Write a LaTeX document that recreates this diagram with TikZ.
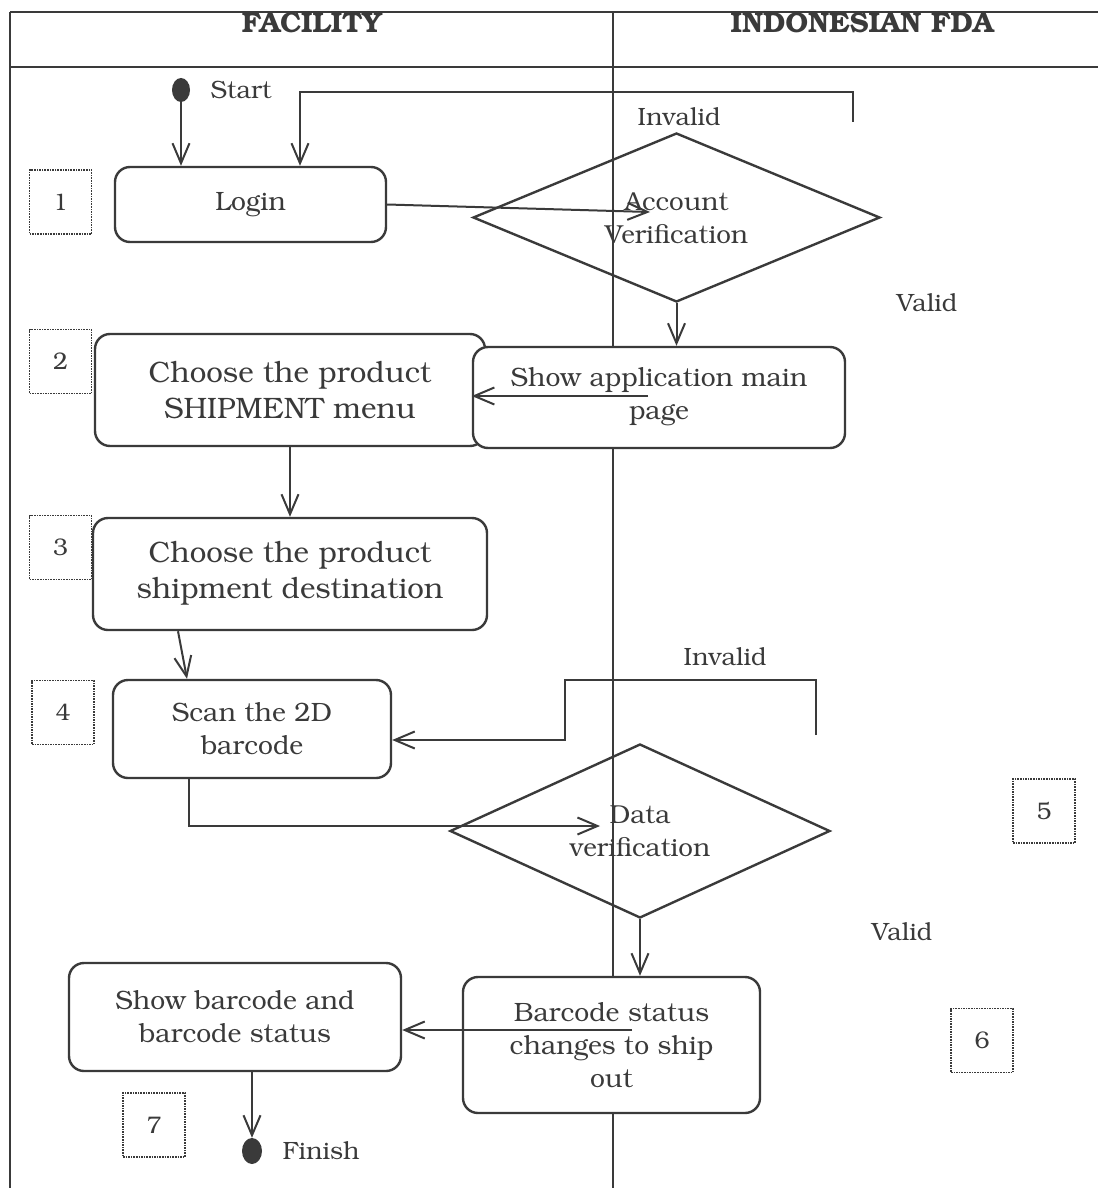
\documentclass[tikz,border=0pt]{standalone}
\usepackage[T1]{fontenc}
\usepackage{bookman}
\usetikzlibrary{shapes.geometric, arrows.meta, calc, positioning}
\definecolor{ink}{HTML}{3A3A3A}
\tikzset{
lane/.style={draw=ink, line width=1.1pt},
lanehead/.style={font=\bfseries\fontsize{28.5}{32}\selectfont, text=ink},
activity/.style={draw=ink, fill=white, line width=2.4pt, rounded corners=15pt, align=center, text=ink, font=\fontsize{26.5}{33}\selectfont},
bigact/.style={activity, font=\fontsize{29.5}{36}\selectfont},
decision/.style={draw=ink, line width=2.4pt, diamond, aspect=2.4, inner sep=0pt, align=center, text=ink, font=\fontsize{26}{33}\selectfont},
stepno/.style={draw=ink, densely dotted, line width=1.6pt, minimum width=62pt, minimum height=64pt, text=ink, font=\fontsize{24}{28}\selectfont},
terminal/.style={ellipse, fill=ink, inner sep=0pt},
guard/.style={text=ink, font=\fontsize{25}{30}\selectfont},
flow/.style={draw=ink, line width=2pt, -{Straight Barb[length=20pt, width=17pt]}},
}

\begin{document}
\begin{tikzpicture}[x=1pt, y=-1pt, node distance=17pt]
\useasboundingbox (0,0) rectangle (1098,1188);
% swimlanes
\draw[lane] (10,12) -- (1098,12);
\draw[lane] (10,67) -- (1098,67);
\draw[lane] (10,12) -- (10,1188);
\draw[lane] (613,12) -- (613,1188);
\node[lanehead] (facility) at (312,23) {FACILITY};
\node[lanehead] (fda) at (862,23) {INDONESIAN FDA};
% ----
\node[terminal, minimum width=18pt, minimum height=24pt] (start) at (181,90) {};
\node[guard, right = of start] (startlbl) {Start};
\node[activity, minimum width=271pt, minimum height=75pt] (login) at (250.5,204.5) {Login};
\node[decision, minimum width=407pt, minimum height=169pt] (accver) at (676.5,217.5) {Account\\Verification};
\node[guard] (inv1lbl) at (679,117) {Invalid};
\node[guard] (val1lbl) at (927,303) {Valid};
\node[bigact, minimum width=390pt, minimum height=112pt] (choose2) at (290,390) {Choose the product\\SHIPMENT menu};
\node[activity, minimum width=372pt, minimum height=101pt] (showapp) at (659,397.5) {Show application main\\page};
\node[bigact, minimum width=394pt, minimum height=112pt] (choose3) at (290,574) {Choose the product\\shipment destination};
\node[activity, minimum width=278pt, minimum height=98pt] (scan) at (252,729) {Scan the 2D\\barcode};
\node[guard] (inv2lbl) at (725,657) {Invalid};
\node[decision, minimum width=380pt, minimum height=174pt] (dataver) at (640,831) {Data\\verification};
\node[guard] (val2lbl) at (902,932) {Valid};
\node[activity, minimum width=297pt, minimum height=136pt] (bcstatus) at (611.5,1045) {Barcode status\\changes to ship\\out};
\node[activity, minimum width=332pt, minimum height=108pt] (showbc) at (235,1017) {Show barcode and\\barcode status};
\node[terminal, minimum width=20pt, minimum height=26pt] (finish) at (252,1151) {};
\node[guard, right = of finish] (finishlbl) {Finish};
% step numbers
\node[stepno] (s1) at (60.5,202) {1};
\node[stepno] (s2) at (60.5,361.5) {2};
\node[stepno] (s3) at (60.5,547.5) {3};
\node[stepno] (s4) at (63,712.5) {4};
\node[stepno] (s5) at (1044,811) {5};
\node[stepno] (s6) at (982,1040.5) {6};
\node[stepno] (s7) at (154,1125) {7};
% free ends
\coordinate (inv1) at (853,122);
\coordinate (inv2) at (816,735);
\coordinate (acin) at (650,212);
\coordinate (saout) at (648,396);
\coordinate (dvin) at (600,826);
\coordinate (bsout) at (632,1030);
% ----
\draw[flow] (start) -- (start |- login.north);
\draw[flow] (inv1) -- (853,92) -| ($(login.north)+(49.5,0)$);
\draw[flow] (login.east) -- (acin);
\draw[flow] (accver.south) -- (accver.south |- showapp.north);
\draw[flow] (saout) -- (saout -| showapp.west);
\draw[flow] (choose2.south) -- (choose3.north);
\draw[flow] ($(choose3.south)+(-112,0)$) -- ($(scan.north)+(-65,0)$);
\draw[flow] (inv2) -- (816,680) -- (565,680) |- ($(scan.east)+(0,11)$);
\draw[flow] ($(scan.south)+(-63,0)$) |- (dvin);
\draw[flow] (dataver.south) -- (dataver.south |- bcstatus.north);
\draw[flow] (bsout) -- (bsout -| showbc.east);
\draw[flow] (finish |- showbc.south) -- (finish.north);
\end{tikzpicture}
\end{document}
